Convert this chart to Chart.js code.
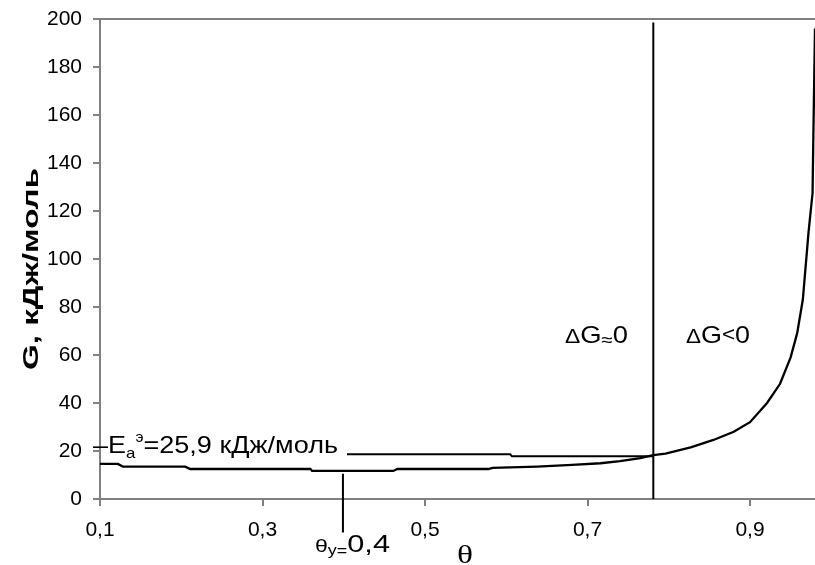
<!DOCTYPE html>
<html>
<head>
<meta charset="utf-8">
<script src="https://cdn.jsdelivr.net/npm/chart.js@4"></script>
<style>
  body { margin: 0; background: #fff; }
  #wrap { width: 815px; height: 565px; }
</style>
</head>
<body>
<div id="wrap"><canvas id="chart"></canvas></div>
<script>
// Free energy curve G(theta)
const thetaValues = [0.100, 0.122, 0.128, 0.205, 0.211, 0.359, 0.361, 0.461, 0.466, 0.578, 0.583,
                     0.638, 0.681, 0.716, 0.740, 0.765, 0.781, 0.796, 0.827, 0.855, 0.880, 0.900,
                     0.921, 0.937, 0.950, 0.958, 0.965, 0.972, 0.977, 0.978, 0.980];
const gValues     = [14.6, 14.6, 13.5, 13.5, 12.5, 12.5, 11.7, 11.7, 12.5, 12.5, 13.0,
                     13.5, 14.2, 14.9, 15.8, 17.0, 18.3, 18.9, 21.5, 24.6, 28.0, 32.0,
                     40.0, 48.0, 59.0, 69.0, 83.0, 111.0, 127.5, 152.0, 196.0];

// vertical boundary between the two regions
const boundaryTheta = [0.781, 0.781];
const boundaryG = [0, 198.5];

// marker for theta_y = 0.4 (runs below the axis)
const thetaYTheta = [0.399, 0.399];
const thetaYG = [10.5, -14];

// horizontal Ea line
const eaTheta = [0.404, 0.605, 0.607, 0.781];
const eaG = [18.6, 18.6, 17.8, 17.8];

const xTicks = [0.1, 0.3, 0.5, 0.7, 0.9];
const yTicks = [0, 20, 40, 60, 80, 100, 120, 140, 160, 180, 200];

function toPoints(xs, ys) {
  return xs.map((x, i) => ({ x: x, y: ys[i] }));
}

const SANS = '"Liberation Sans", Arial, sans-serif';
const SERIF = '"Liberation Serif", "Times New Roman", serif';

// draw a row of text pieces (sub/superscripts), stretched to a given width
function drawRuns(ctx, x, y, runs, width) {
  ctx.save();
  let total = 0;
  runs.forEach(r => { ctx.font = r.font; total += ctx.measureText(r.t).width; });
  const sx = width ? width / total : 1;
  ctx.translate(x, y);
  ctx.scale(sx, 1);
  ctx.fillStyle = '#000';
  ctx.textBaseline = 'alphabetic';
  ctx.textAlign = 'left';
  let cx = 0;
  runs.forEach(r => {
    ctx.font = r.font;
    ctx.fillText(r.t, cx, r.dy || 0);
    cx += ctx.measureText(r.t).width;
  });
  ctx.restore();
}

const labelsPlugin = {
  id: 'labels',
  afterDraw(chart) {
    const ctx = chart.ctx;
    // y title, rotated
    ctx.save();
    ctx.translate(38, 269);
    ctx.rotate(-Math.PI / 2);
    ctx.font = 'bold 22px ' + SANS;
    const t = 'G, кДж/моль';
    const w = ctx.measureText(t).width;
    ctx.scale(202 / w, 1);
    ctx.fillStyle = '#000';
    ctx.textAlign = 'center';
    ctx.fillText(t, 0, 0);
    ctx.restore();

    drawRuns(ctx, 93, 453, [
      { t: '–E', font: '24px ' + SANS },
      { t: 'a', font: '15px ' + SANS, dy: 5 },
      { t: 'э', font: '14px ' + SANS, dy: -11 },
      { t: '=25,9 кДж/моль', font: '24px ' + SANS }
    ], 245);

    drawRuns(ctx, 565, 343, [
      { t: 'Δ', font: '20px ' + SANS },
      { t: 'G', font: '24px ' + SANS },
      { t: '≈', font: '18px ' + SANS, dy: 3 },
      { t: '0', font: '24px ' + SANS }
    ], 63);

    drawRuns(ctx, 686, 343, [
      { t: 'Δ', font: '20px ' + SANS },
      { t: 'G', font: '24px ' + SANS },
      { t: '<', font: '20px ' + SANS, dy: -2 },
      { t: '0', font: '24px ' + SANS }
    ], 64);

    drawRuns(ctx, 315, 552, [
      { t: 'θ', font: '18px ' + SANS },
      { t: 'y', font: '14px ' + SANS, dy: 3 },
      { t: '=', font: '14px ' + SANS, dy: 4 },
      { t: '0,4', font: '24px ' + SANS }
    ], 75);

    drawRuns(ctx, 457, 563, [
      { t: 'θ', font: '26px ' + SERIF }
    ], 16);
  }
};

const lineStyle = {
  showLine: true,
  pointRadius: 0,
  borderColor: '#000',
  fill: false,
  tension: 0
};

new Chart(document.getElementById('chart'), {
  type: 'scatter',
  data: {
    datasets: [
      Object.assign({ data: toPoints(thetaValues, gValues), borderWidth: 2.3 }, lineStyle),
      Object.assign({ data: toPoints(boundaryTheta, boundaryG), borderWidth: 2 }, lineStyle),
      Object.assign({ data: toPoints(thetaYTheta, thetaYG), borderWidth: 2, clip: false }, lineStyle),
      Object.assign({ data: toPoints(eaTheta, eaG), borderWidth: 2 }, lineStyle)
    ]
  },
  options: {
    responsive: true,
    maintainAspectRatio: false,
    animation: false,
    layout: { padding: { top: 19, right: 0, left: 0, bottom: 0 } },
    plugins: {
      legend: { display: false },
      tooltip: { enabled: false }
    },
    scales: {
      x: {
        type: 'linear',
        min: 0.1,
        max: 0.98,
        afterBuildTicks: s => { s.ticks = xTicks.map(v => ({ value: v })); },
        afterFit: s => { s.height = 66; s.paddingLeft = 0; s.paddingRight = 0; },
        ticks: {
          color: '#000',
          font: { family: SANS, size: 21 },
          padding: 12,
          callback: v => v.toFixed(1).replace('.', ',')
        },
        grid: { color: 'transparent', tickColor: '#808080', tickLength: 7, lineWidth: 2 },
        border: { color: '#808080', width: 2 }
      },
      y: {
        min: 0,
        max: 200,
        afterBuildTicks: s => { s.ticks = yTicks.map(v => ({ value: v })); },
        afterFit: s => { s.width = 100; s.paddingTop = 0; s.paddingBottom = 0; },
        ticks: {
          color: '#000',
          font: { family: SANS, size: 21 },
          padding: 11
        },
        grid: {
          color: c => (c.tick && c.tick.value === 200 ? '#808080' : 'transparent'),
          tickColor: '#808080',
          tickLength: 7,
          lineWidth: 2
        },
        border: { color: '#808080', width: 2 }
      }
    }
  },
  plugins: [labelsPlugin]
});
</script>
</body>
</html>
